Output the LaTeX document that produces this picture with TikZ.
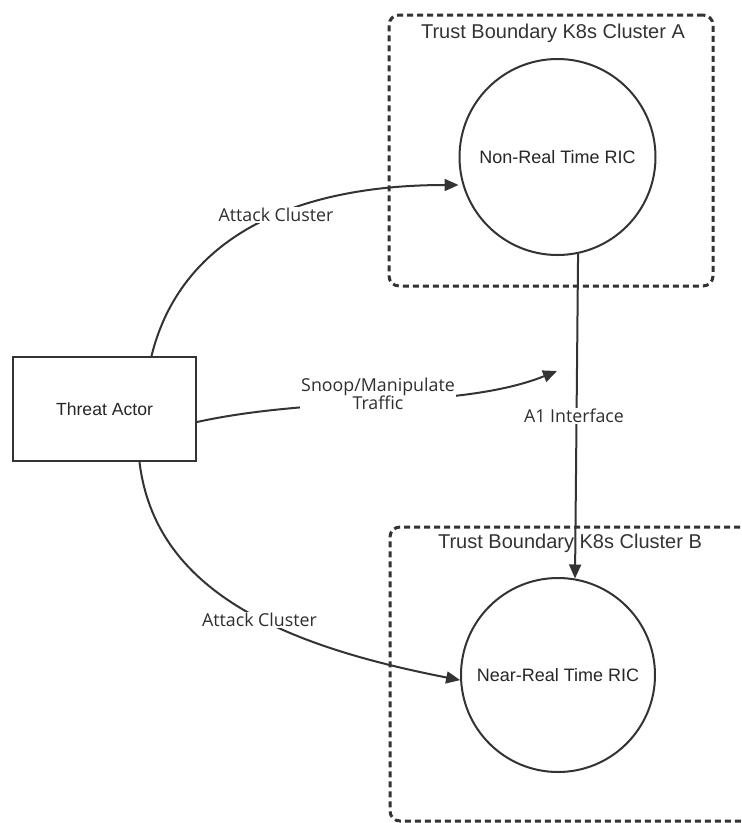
\documentclass[tikz,border=0pt]{standalone}
\usepackage{fontspec}
\setmainfont{Liberation Sans}
\newfontfamily\labelfont{Open Sans}
\usetikzlibrary{arrows.meta}
\definecolor{ink}{HTML}{333333}
\begin{document}
\begin{tikzpicture}[x=1pt,y=-1pt,
  actor/.style={draw=ink, line width=2pt, fill=white, minimum width=183pt,
    minimum height=104pt, inner sep=0pt, font=\fontsize{17.6}{20}\selectfont, text=black!85},
  ric/.style={circle, draw=ink, line width=2pt, fill=white, minimum size=196pt,
    inner sep=0pt, font=\fontsize{18}{20}\selectfont, text=black!85},
  cluster/.style={draw=ink, line width=3pt, dash pattern=on 6pt off 4pt,
    rounded corners=10pt, inner sep=0pt},
  ctitle/.style={font=\fontsize{20}{24}\selectfont, text=ink},
  flow/.style={draw=ink, line width=2pt, -{Triangle[length=14pt,width=12pt]}},
  elabel/.style={fill=white, font=\labelfont\fontsize{17.8}{18}\selectfont,
    text=ink!90!black, inner sep=1pt, align=center},
]
\useasboundingbox (0,0) rectangle (742,823);
\clip (0,0) rectangle (742,823);

% trust boundaries
\node[cluster, minimum width=324pt, minimum height=271pt] (clA) at (551,150.5) {};
\node[ctitle] (clAtitle) at (553,33) {Trust Boundary K8s Cluster A};
\node[cluster, minimum width=370pt, minimum height=294pt] (clB) at (575,674) {};
\node[ctitle] (clBtitle) at (570,543) {Trust Boundary K8s Cluster B};

% actors and components
\node[actor] (ta) at (104.5,409) {Threat Actor};
\node[ric] (nrt) at (557.5,157) {Non-Real Time RIC};
\node[ric, minimum size=194pt] (near) at (558,675) {Near-Real Time RIC};
\coordinate (snoopend) at (557,371);

% flows
\draw[flow] (nrt.-78) -- (near.80.5);
\draw[flow] (ta.north |- 0,356) ++(47,0) coordinate (taN)
  (taN) .. controls (180,240) and (290,185) .. (nrt.west |- 0,185);
\draw[flow] (ta.south |- 0,462) ++(35,0) coordinate (taS)
  (taS) .. controls (155,590) and (280,645) .. (near.183);
\draw[flow] (ta.east |- 0,422) coordinate (taE)
  (taE) .. controls (320,395) and (460,410) .. (snoopend);

% flow labels
\node[elabel] (lblA) at (276,215) {Attack Cluster};
\node[elabel] (lblB) at (259.5,620) {Attack Cluster};
\node[elabel] (lblS) at (378,394) {Snoop/Manipulate\\Traffic};
\node[elabel] (lblI) at (574,416) {A1 Interface};
\end{tikzpicture}
\end{document}
